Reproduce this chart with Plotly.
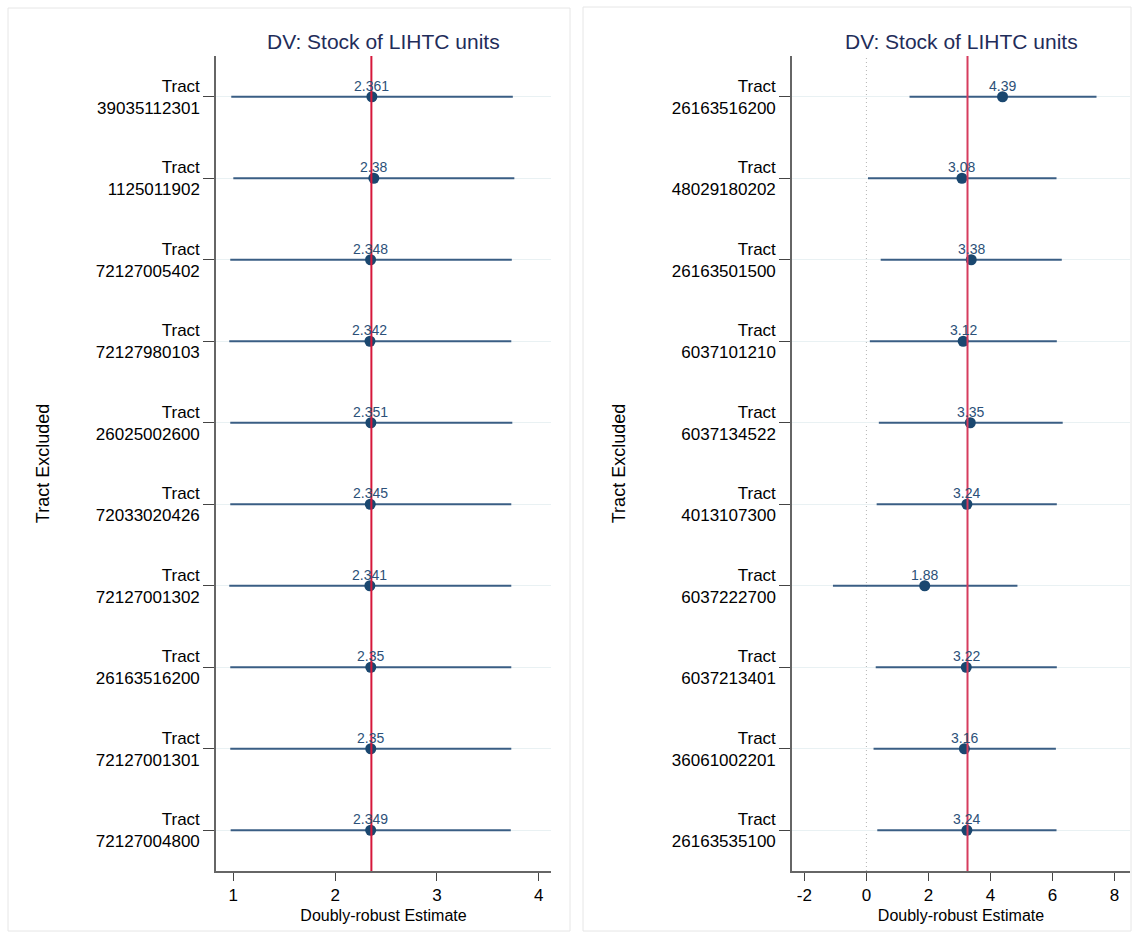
import plotly.graph_objects as go

left_tracts = ["39035112301", "1125011902", "72127005402", "72127980103", "26025002600",
               "72033020426", "72127001302", "26163516200", "72127001301", "72127004800"]
left_est = [2.361, 2.38, 2.348, 2.342, 2.351, 2.345, 2.341, 2.35, 2.35, 2.349]
left_lo = [0.98, 1.00, 0.97, 0.96, 0.97, 0.97, 0.96, 0.97, 0.97, 0.974]
left_hi = [3.745, 3.76, 3.735, 3.73, 3.74, 3.73, 3.73, 3.73, 3.73, 3.725]
left_ref = 2.356

right_tracts = ["26163516200", "48029180202", "26163501500", "6037101210", "6037134522",
                "4013107300", "6037222700", "6037213401", "36061002201", "26163535100"]
right_est = [4.39, 3.08, 3.38, 3.12, 3.35, 3.24, 1.88, 3.22, 3.16, 3.24]
right_lo = [1.39, 0.05, 0.46, 0.11, 0.40, 0.33, -1.08, 0.30, 0.23, 0.35]
right_hi = [7.42, 6.13, 6.30, 6.14, 6.33, 6.14, 4.87, 6.14, 6.11, 6.13]
right_ref = 3.26

left_xticks = [1, 2, 3, 4]
right_xticks = [-2, 0, 2, 4, 6, 8]
title_text = "DV: Stock of LIHTC units"
xtitle = "Doubly-robust Estimate"
ytitle = "Tract Excluded"

W, H = 1137, 932
NAVY = "#1a476f"
LINE = "#3a5e84"
LABEL = "#2c5078"
FONT = "Liberation Sans, Arial, Helvetica, sans-serif"

def px(v):
    return v / W

def py(v):
    return 1 - v / H

fig = go.Figure()

panels = [
    dict(tr=left_tracts, est=left_est, lo=left_lo, hi=left_hi, ref=left_ref, xa="x", ya="y",
         ticks=left_xticks, rng=[0.83, 4.12], red="#d6173a",
         dom=[px(216), px(551)], zero=False),
    dict(tr=right_tracts, est=right_est, lo=right_lo, hi=right_hi, ref=right_ref, xa="x2", ya="y2",
         ticks=right_xticks, rng=[-2.4, 8.5], red="#d63c5e",
         dom=[px(792), px(1130)], zero=True),
]

layout = dict(
    width=W, height=H, margin=dict(l=0, r=0, t=0, b=0),
    paper_bgcolor="white", plot_bgcolor="white", showlegend=False,
    font=dict(family=FONT, color="black"),
)
shapes = []
annotations = []

for i, p in enumerate(panels):
    n = len(p["tr"])
    pos = list(range(1, n + 1))
    xs, ys = [], []
    for k in range(n):
        xs += [p["lo"][k], p["hi"][k], None]
        ys += [pos[k], pos[k], None]
    fig.add_trace(go.Scatter(x=xs, y=ys, mode="lines", line=dict(color=LINE, width=2),
                             xaxis=p["xa"], yaxis=p["ya"], hoverinfo="skip"))
    fig.add_trace(go.Scatter(x=p["est"], y=pos, mode="markers",
                             marker=dict(color=NAVY, size=11),
                             xaxis=p["xa"], yaxis=p["ya"]))
    for v, yv in zip(p["est"], pos):
        annotations.append(dict(text=f"{v:g}", x=v, y=yv, xref=p["xa"], yref=p["ya"],
                                showarrow=False, yshift=11, xanchor="center", yanchor="middle",
                                font=dict(color=LABEL, size=14, family=FONT)))
    sfx = "" if i == 0 else "2"
    layout["xaxis" + sfx] = dict(
        domain=p["dom"], anchor="y" + sfx, range=p["rng"], tickvals=p["ticks"],
        ticktext=[str(t) for t in p["ticks"]],
        ticks="outside", ticklen=8, tickcolor="#444", showline=True, linecolor="#666",
        linewidth=1.5, showgrid=False, zeroline=False,
        tickfont=dict(size=17, color="black"),
        title=dict(text=xtitle, font=dict(size=16, color="black"), standoff=6),
    )
    layout["yaxis" + sfx] = dict(
        domain=[py(871), py(56)], anchor="x" + sfx, range=[n + 0.5, 0.5],
        tickvals=pos, ticktext=[f"Tract<br>{t}" for t in p["tr"]],
        ticks="outside", ticklen=11, tickcolor="#444", showline=True, linecolor="#666",
        linewidth=1.5, showgrid=True, gridcolor="#e9f1f3", gridwidth=1, zeroline=False,
        tickfont=dict(size=17, color="black"),
        title=dict(text=ytitle, font=dict(size=18, color="black"), standoff=42),
    )
    shapes.append(dict(type="line", xref=p["xa"], yref=p["ya"] + " domain",
                       x0=p["ref"], x1=p["ref"], y0=0, y1=1,
                       line=dict(color=p["red"], width=2), layer="above"))
    if p["zero"]:
        shapes.append(dict(type="line", xref=p["xa"], yref=p["ya"] + " domain",
                           x0=0, x1=0, y0=0, y1=1,
                           line=dict(color="#b5b5b5", width=1, dash="1px,3px"), layer="below"))
    cx = (p["dom"][0] + p["dom"][1]) / 2
    annotations.append(dict(text=title_text, xref="paper", yref="paper", x=cx, y=py(41),
                            xanchor="center", yanchor="middle", showarrow=False,
                            font=dict(size=21, color="#1f2d5a", family=FONT)))

# panel frames
shapes.append(dict(type="rect", xref="paper", yref="paper", x0=px(8), x1=px(570),
                   y0=py(931), y1=py(8), line=dict(color="#e6e6e6", width=1), layer="below"))
shapes.append(dict(type="rect", xref="paper", yref="paper", x0=px(583), x1=px(1131),
                   y0=py(931), y1=py(7), line=dict(color="#e6e6e6", width=1), layer="below"))

layout["shapes"] = shapes
layout["annotations"] = annotations
fig.update_layout(**layout)
fig.write_html("out.html")
